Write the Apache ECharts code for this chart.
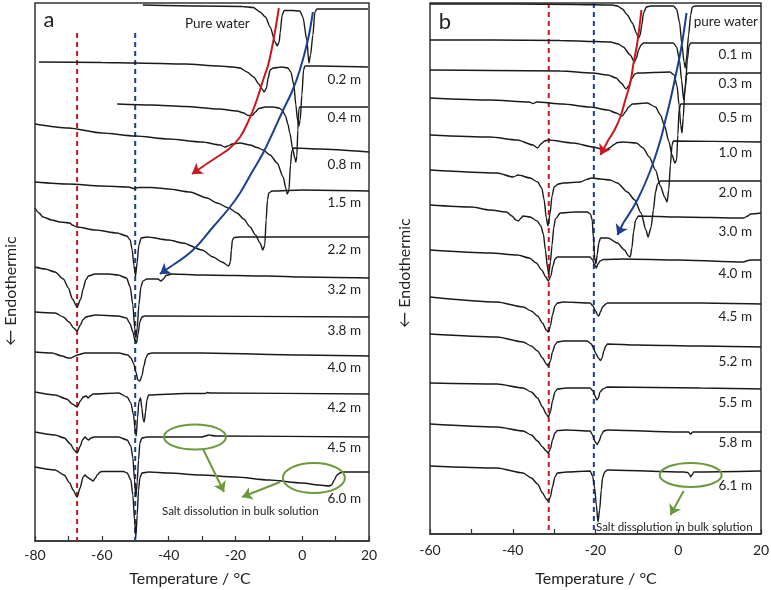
<!DOCTYPE html>
<html><head><meta charset="utf-8">
<script src="https://cdn.jsdelivr.net/npm/echarts@6.0.0/dist/echarts.min.js"></script>
<style>html,body{margin:0;padding:0;background:#fff}#c{width:771px;height:590px}</style>
</head><body><div id="c"></div>
<script>
// ---------- Panel a (T in °C, relative heat-flow offset, arbitrary units, down = endothermic) ----------
const labelsA = ['Pure water','0.2 m','0.4 m','0.8 m','1.5 m','2.2 m','3.2 m','3.8 m','4.0 m','4.2 m','4.5 m','6.0 m'];
const a_pure = [[-47.7,5],[-30,6],[-18,6.5],[-14.7,7.5],[-12.6,12],[-11,17],[-9.6,27],[-8.1,42],[-7.5,46],[-6.9,42],[-6.6,33],[-6.0,15],[-5.4,10.5],[-3,10.5],[-0.7,11],[0.2,17],[1.4,40],[2.0,63],[2.5,55],[3.2,35],[3.8,12],[4.4,9],[19.7,9]];
const a_02 = [[-78.8,62],[-60,62.5],[-50,63],[-35,64],[-25,66],[-20.7,67],[-18.6,68],[-16.5,72],[-14.5,77],[-13.0,84],[-12.0,89],[-11.4,92],[-10.7,88],[-10.2,78],[-9.6,70],[-8.7,68],[-6,67],[-4.3,68],[-3.4,72],[-2.5,85],[-1.9,105],[-1.4,120],[-1.0,126],[-0.6,120],[-0.1,95],[0.4,70],[0.8,66],[5,66],[19.7,67]];
const a_04 = [[-55.4,104],[-45,105],[-35,106.5],[-25,109],[-19.5,111],[-17.5,113],[-16.2,115.5],[-15,115.5],[-14,112],[-13,108.5],[-11,107],[-8.7,107],[-7,108],[-6,110],[-5,116],[-4.3,124],[-3.7,133],[-2.8,150],[-2.2,158],[-1.9,162],[-1.6,156],[-1.3,130],[-1.0,109],[-0.7,107],[19.7,107]];
const a_08 = [[-80,124],[-70,128],[-60,133],[-50,136],[-40,139],[-30,142],[-24.5,145],[-23.2,147],[-22.2,146],[-21,144],[-18.6,143],[-15.6,145],[-13.5,147.5],[-11.7,150],[-9.6,155],[-7.5,163],[-5.7,177],[-4.9,188],[-4.5,194],[-4.0,191],[-3.5,165],[-3.1,151],[-2.5,148],[5,149],[20,152]];
const a_15 = [[-80,182],[-70,184],[-60,186],[-52,187],[-50.5,188.5],[-49,187.5],[-45,187.5],[-40,189],[-33.6,192],[-28.5,198],[-25.5,203],[-22,208],[-19.5,213],[-17.5,219],[-15.6,227],[-14,235],[-12.6,243],[-11.8,250],[-11.2,245],[-10.8,220],[-10.4,200],[-10.0,193],[-9,191],[0,190],[20,191]];
const a_22 = [[-80,208],[-78.8,213],[-77.6,217],[-75,220],[-72.5,222],[-69.5,223],[-68.9,225],[-67.4,227],[-62,230],[-55.4,233],[-52.5,236],[-51.5,240],[-50.9,250],[-50.4,265],[-49.9,276],[-49.4,262],[-48.9,245],[-48.2,238],[-46.5,237],[-40,240],[-35.7,243],[-30,250],[-26.7,257],[-24,262],[-22,266],[-21.5,262],[-21.2,250],[-20.9,240],[-20.4,237.5],[-18.6,237],[20,237]];
const a_32 = [[-80,267],[-77,269],[-74,272],[-71.5,279],[-70,288],[-68.8,299],[-67.4,307],[-66.3,299],[-65.6,289],[-64.8,280],[-64,276],[-62,274],[-58,274],[-55.1,275],[-52.6,278],[-51.5,287],[-50.7,305],[-50.1,330],[-49.8,338],[-49.4,328],[-48.9,305],[-48.3,287],[-47.7,281],[-46.5,279],[-43.2,279],[-42.3,281],[-41.5,279],[-40.8,275.5],[-39,274],[-30,275],[-10,276],[0,277],[20,278]];
const a_38 = [[-80,312],[-74,313],[-71.5,317],[-69.8,322],[-68.4,328],[-67.4,331],[-66.4,325],[-65.7,320],[-64.8,317],[-63.5,316],[-62,315],[-55.1,316],[-52.6,318],[-51.5,324],[-50.7,332],[-50.1,340],[-49.6,343],[-49.2,335],[-48.6,322],[-48,317],[-47.1,316],[20,317]];
const a_40 = [[-80,352],[-74.9,353],[-71.9,356],[-70.1,358],[-69.2,358],[-68.3,356.5],[-67.4,355],[-65,353],[-55,353],[-52.2,355],[-51.3,358],[-50.4,364],[-49.8,372],[-49.2,380],[-48.6,381],[-48,376],[-47.4,366],[-46.8,358],[-46.2,354],[-45,353],[-30,353],[0,355],[20,356]];
const a_42 = [[-80,392],[-74,395],[-70.5,399],[-68.8,404],[-67.4,407],[-66.4,401],[-65.6,397],[-64.7,396],[-64.1,398],[-63.5,396],[-62.6,394],[-55,393],[-52.4,397],[-51.3,403],[-50.5,415],[-50,430],[-49.7,436],[-49.3,418],[-48.9,402],[-48.4,398],[-48.0,408],[-47.6,420],[-47.3,422],[-46.9,412],[-46.5,400],[-46.0,395],[-35,393.5],[-29,393.5],[-28.5,392.5],[-27.5,393],[20,394]];
const a_45 = [[-80,432],[-74,435],[-71.2,438],[-69.4,444],[-68.3,450],[-67.4,453],[-66.4,446],[-65.8,440],[-65,437],[-64.4,439],[-64.0,440],[-63.2,438],[-62.3,437],[-55,437],[-52.4,440],[-51.3,446],[-50.7,458],[-50.2,480],[-49.8,497],[-49.4,482],[-49,460],[-48.6,443],[-48,438],[-46.5,437],[-30,437],[-29,436],[-28,435],[-26,436],[20,437]];
const a_60 = [[-80,467],[-74,470],[-71.3,475],[-69.6,483],[-68.6,490],[-67.4,497],[-66.5,488],[-65.6,477],[-65.0,475],[-64.4,477],[-63.5,479],[-62.6,481],[-61.9,478],[-61.4,475],[-60.5,472],[-59.9,471.5],[-53.5,471.5],[-52.4,473],[-51.3,480],[-50.7,495],[-50.2,520],[-49.8,537],[-49.4,515],[-49.0,490],[-48.6,478],[-48,473],[-46,472],[-40,473],[-30.6,475],[-20,477],[-10,480],[0,483],[5,485],[8,486],[8.8,485],[9.6,480],[10.4,475],[11.3,473],[12.2,472],[20,472]];
const curvesA = [a_pure,a_02,a_04,a_08,a_15,a_22,a_32,a_38,a_40,a_42,a_45,a_60];
const refA = [-67.4, -50];          // eutectic reference temperatures (°C)
const ticksA = [-80,-60,-40,-20,0,20];

// ---------- Panel b ----------
const labelsB = ['pure water','0.1 m','0.3 m','0.5 m','1.0 m','2.0 m','3.0 m','4.0 m','4.5 m','5.2 m','5.5 m','5.8 m','6.1 m'];
const b_pure = [[-60,4],[-40,4],[-25,4.5],[-16,5],[-14.7,6],[-13.5,9],[-12.3,15],[-11.1,23],[-10.1,33],[-9.6,38],[-9.2,35],[-8.8,25],[-8.4,13],[-7.7,7],[-6.7,6],[-1.2,6],[-0.4,9],[0.3,22],[0.9,45],[1.4,62],[1.7,68],[2.0,58],[2.5,35],[3.0,15],[3.4,7],[4,6],[20,6]];
const b_01 = [[-60,40],[-45,40],[-28.5,40.5],[-20,41.5],[-16.4,42],[-14.5,44],[-13.3,47],[-11.6,55],[-10.6,62],[-10.1,58],[-9.6,50],[-9.0,45],[-8.4,43],[-1.2,43],[-0.4,47],[0.3,60],[0.8,80],[1.3,100],[1.7,88],[2.2,60],[2.6,46],[3.0,43],[20,43]];
const b_03 = [[-60,70],[-45,70.5],[-28.5,71],[-20.8,73],[-17,75],[-15,78],[-13.8,83],[-12.6,89],[-12.0,86],[-11.3,79],[-10.5,74],[-9.9,73],[-2,72],[-1.0,75],[-0.3,86],[0.2,105],[0.6,125],[0.9,133],[1.2,118],[1.6,90],[2.0,75],[2.4,73],[20,73]];
const b_05 = [[-60,98],[-45.5,100],[-36,102],[-35.1,103.5],[-34.2,102],[-28,104],[-21.3,107],[-17,110],[-15,113],[-13.5,116],[-12.8,112],[-12,107],[-11.1,104],[-7.5,103],[-5.5,107],[-4.3,115],[-3.3,126],[-2.3,141],[-1.5,155],[-0.8,163],[-0.4,160],[-0.1,135],[0.2,110],[0.6,104],[20,104]];
const b_10 = [[-60,135],[-45.5,137],[-38.9,140],[-35.1,145],[-34,148],[-33.2,144],[-32.3,141],[-31.4,140],[-25.4,143],[-20.5,147],[-18.6,149],[-17.6,150],[-16.6,148],[-15.7,145],[-14.7,142.5],[-13.3,142],[-10.1,143],[-8.5,148],[-7.0,157],[-5.5,170],[-4.3,186],[-3.3,197],[-2.7,202],[-2.3,190],[-1.9,165],[-1.5,145],[-1.2,141],[20,142]];
const b_20 = [[-60,170],[-43.8,173],[-39.9,177],[-38.7,175],[-35.8,178],[-34,182],[-33,188],[-32.4,200],[-31.9,218],[-31.5,226],[-31.0,214],[-30.5,196],[-30.0,187],[-29,184],[-27.8,183],[-23.7,182],[-21.8,179],[-21,178],[-18.8,179],[-16.5,180],[-14.7,183],[-12.3,192],[-10.5,200],[-9.0,213],[-7.8,230],[-7.3,237],[-6.6,228],[-6.0,210],[-5.5,192],[-5.0,184],[-4.3,181],[20,181]];
const b_30 = [[-60,205],[-50,207],[-45.5,210],[-41.5,212],[-40.2,216],[-39.2,220],[-38.6,221],[-38,218],[-37.5,216],[-35.8,217],[-34.1,221],[-33.2,226],[-32.6,234],[-32.1,250],[-31.6,268],[-31.3,274],[-30.9,262],[-30.5,245],[-30.1,228],[-29.7,219],[-28.5,213],[-25,212],[-22,212],[-21.2,214],[-20.8,220],[-20.5,238],[-20.2,258],[-19.9,264],[-19.6,255],[-19.2,243],[-18.8,238],[-17,238],[-14.7,243],[-13,250],[-12.0,256],[-11.6,257],[-11.2,248],[-10.8,232],[-10.3,220],[-9.6,216],[0,217],[15.8,218],[16.8,216],[17.5,214],[20,213]];
const b_40 = [[-60,250],[-45.5,253],[-38.9,255],[-36,258],[-34.3,263],[-33,270],[-32,277],[-31.4,281],[-30.8,276],[-30.3,266],[-29.8,259],[-29.2,257],[-27.8,257],[-21.3,257],[-20.7,260],[-20.2,265],[-19.8,268],[-19.4,264],[-18.9,261],[-18.1,259.5],[-13.3,259],[0,260],[15.8,262],[16.8,260.5],[17.5,260],[20,260]];
const b_45 = [[-60,297],[-43.8,302],[-37.5,307],[-35.5,311],[-34,316],[-32.8,323],[-31.9,330],[-31.4,332],[-30.9,326],[-30.4,315],[-29.8,306],[-29.2,303],[-27.8,302],[-21.3,303],[-20.6,306],[-20.0,311],[-19.5,315],[-19.2,316],[-18.8,312],[-18.3,307],[-17.5,304],[-17.1,303],[-11.6,303],[5.4,303],[20,304]];
const b_52 = [[-60,334],[-43.8,337],[-37.5,342],[-35.5,346],[-34,351],[-32.8,358],[-31.9,364],[-31.4,366],[-30.9,361],[-30.4,352],[-29.8,345],[-29.2,342],[-27.8,341],[-22,341],[-21,344],[-20.5,348],[-20.0,353],[-19.3,358],[-18.8,360.5],[-18.4,358],[-18.0,351],[-17.5,346],[-17.1,344],[-10,345],[5.4,346],[20,347]];
const b_55 = [[-60,383],[-43.8,384],[-37.5,388],[-35.5,392],[-34,398],[-32.8,407],[-31.9,414],[-31.4,417],[-30.9,412],[-30.4,401],[-29.8,392],[-29.2,389],[-27,388],[-21.3,388],[-20.6,391],[-20.1,396],[-19.7,400],[-19.3,398],[-18.9,392],[-18.2,389],[-17.1,387],[5.4,388],[20,389]];
const b_58 = [[-60,424],[-43.8,427],[-37.5,431],[-35.5,435],[-34,441],[-32.8,447],[-31.9,451],[-31.4,453],[-30.9,449],[-30.4,440],[-29.8,433],[-29.2,430.5],[-27,430],[-21.3,431],[-20.7,435],[-20.2,441],[-19.6,444.5],[-19.1,441],[-18.6,435],[-18.0,431],[-17.1,430],[0,432],[2.5,432],[3.0,434],[3.5,432],[20,432]];
const b_61 = [[-60,466],[-43.8,468],[-37.5,473],[-35.5,478],[-34,484],[-32.8,493],[-31.9,499],[-31.4,501],[-30.9,497],[-30.4,487],[-29.8,477],[-29.2,473],[-27,472],[-21.3,471],[-20.7,476],[-20.2,488],[-19.8,505],[-19.4,522],[-19.0,510],[-18.6,490],[-18.3,478],[-17.8,472],[-17.1,470],[1.3,472],[2.3,472.5],[2.8,475],[3.0,477],[3.3,475],[3.8,472],[20,471]];
const curvesB = [b_pure,b_01,b_03,b_05,b_10,b_20,b_30,b_40,b_45,b_52,b_55,b_58,b_61];
const refB = [-31.3, -20.4];
const ticksB = [-60,-40,-20,0,20];

// ---------- annotation paths (data coords) ----------
const arrowA_red  = [[-7.0,8],[-7.8,25],[-9.0,47],[-10.2,65],[-11.7,80],[-13.2,96],[-14.7,110],[-16.5,124],[-18.6,137],[-21.6,148],[-25.5,157],[-29.1,165],[-33.0,174]];
const arrowA_blue = [[3.2,12],[1.7,40],[-0.7,70],[-3.1,92],[-5.7,110],[-8.7,132],[-11.7,153],[-15.0,172],[-18.6,193],[-21.6,207],[-26.7,227],[-32.7,250],[-38.7,265],[-42.6,274]];
const arrowB_red  = [[-8.9,10],[-9.9,43],[-10.8,63],[-11.6,83],[-12.8,100],[-14.0,117],[-15.4,130],[-16.9,140],[-18.8,155]];
const arrowB_blue = [[2.0,13],[1.3,33],[0.5,53],[-0.7,77],[-1.9,100],[-3.1,120],[-4.3,140],[-6.7,170],[-9.9,200],[-13.3,223],[-14.7,235]];
const greenA1 = [[-29.7,449],[-23.4,492]];
const greenA2 = [[-6.6,482],[-18.0,497]];
const greenB1 = [[1.3,491],[-1.9,515]];

const FONT = 'Lato, "Open Sans", "DejaVu Sans", sans-serif';
const INK = '#1a1a1a', RED = '#c8171e', BLUE = '#1d3f8f', GREEN = '#6b9a3c';

function curve(data, xi, name) {
  return {name, type:'line', xAxisIndex:xi, yAxisIndex:xi, data, showSymbol:false, symbol:'none',
    smooth:0.25, smoothMonotone:'x', lineStyle:{color:INK, width:1.4}, silent:true, z:3, animation:false};
}
function vline(x, y0, y1, color, xi) {
  return {type:'line', xAxisIndex:xi, yAxisIndex:xi, data:[[x,y0],[x,y1]], showSymbol:false, symbol:'none',
    lineStyle:{color, width:2, type:[5,4]}, silent:true, z:2, animation:false};
}
function arrow(coords, color, xi, w) {
  const n = coords.length;
  const out = [];
  if (n > 2) {
    out.push({type:'line', xAxisIndex:xi, yAxisIndex:xi, data:coords.slice(0, n-1), showSymbol:false, symbol:'none',
      smooth:0.4, lineStyle:{color, width:w}, silent:true, z:4, animation:false});
  }
  out.push({type:'lines', coordinateSystem:'cartesian2d', xAxisIndex:xi, yAxisIndex:xi,
    symbol:['none','arrow'], symbolSize:[1,10], lineStyle:{color, width:w, opacity:1, curveness:0},
    data:[{coords:[coords[n-2], coords[n-1]]}], silent:true, z:4, animation:false});
  return out;
}
function xAx(gi, min, max, ticks, margin) {
  return {type:'value', gridIndex:gi, min, max, interval:10,
    axisLine:{show:true, onZero:false, lineStyle:{color:'#333', width:1.5}},
    axisTick:{show:true, inside:true, length:5, lineStyle:{color:'#333', width:1.2}},
    splitLine:{show:false},
    axisLabel:{show:true, margin, fontSize:14, fontFamily:FONT, color:'#222', showMinLabel:true, showMaxLabel:true,
      hideOverlap:false, formatter: v => ticks.indexOf(Math.round(v)) >= 0 ? String(Math.round(v)) : ''}};
}
function yAx(gi, min, max) {
  return {type:'value', gridIndex:gi, min, max, inverse:true, show:false, splitLine:{show:false}};
}

const series = [];
curvesA.forEach((d,i) => series.push(curve(d, 0, labelsA[i])));
curvesB.forEach((d,i) => series.push(curve(d, 1, labelsB[i])));
series.push(vline(refA[0], 33, 541, RED, 0), vline(refA[1], 33, 541, BLUE, 0));
series.push(vline(refB[0], 3, 534, RED, 1), vline(refB[1], 3, 534, BLUE, 1));
series.push(...arrow(arrowA_red, RED, 0, 2), ...arrow(arrowA_blue, BLUE, 0, 2));
series.push(...arrow(arrowB_red, RED, 1, 2), ...arrow(arrowB_blue, BLUE, 1, 2));
series.push(...arrow(greenA1, GREEN, 0, 2), ...arrow(greenA2, GREEN, 0, 2), ...arrow(greenB1, GREEN, 1, 2));

const chart = echarts.init(document.getElementById('c'), null, {renderer:'canvas'});
chart.setOption({
  animation:false,
  backgroundColor:'#fff',
  grid:[
    {left:35, top:3, width:334, height:538, show:true, borderColor:'#333', borderWidth:1.5, backgroundColor:'transparent', containLabel:false, outerBoundsMode:'none'},
    {left:430, top:3, width:331, height:531, show:true, borderColor:'#333', borderWidth:1.5, backgroundColor:'transparent', containLabel:false, outerBoundsMode:'none'}
  ],
  xAxis:[xAx(0,-80,20,ticksA,7), xAx(1,-60,20,ticksB,9)],
  yAxis:[yAx(0,3,541), yAx(1,3,534)],
  series
});

// ---------- texts & ellipses ----------
const labelYA = [24,80,118,165,203,250,290,331,368,408,448,499];
const labelYB = [22,55,84,118,153,193,232,274,317,362,403,443,486];
function txt(x, y, text, size, align, extra) {
  return Object.assign({type:'text', x, y, silent:true, z:10,
    style:{text, fontSize:size, fontFamily:FONT, fill:'#222', align:align||'left', verticalAlign:'middle'}}, extra||{});
}
const g = [];
g.push(txt(49, 20, 'a', 22, 'center'));
g.push(txt(445, 22, 'b', 22, 'center'));
labelsA.forEach((t,i) => {
  if (i === 0) g.push(txt(185, labelYA[i], t, 13.5, 'left'));
  else g.push(txt(361, labelYA[i], t, 13.5, 'right'));
});
labelsB.forEach((t,i) => {
  if (i === 0) g.push(txt(758, labelYB[i], t, 13.5, 'right'));
  else g.push(txt(752, labelYB[i], t, 13.5, 'right'));
});
g.push(txt(190, 579, 'Temperature / °C', 16, 'center'));
g.push(txt(596, 579, 'Temperature / °C', 16, 'center'));
g.push(txt(11, 291, '← Endothermic', 16, 'center', {rotation: Math.PI/2}));
g.push(txt(405, 273, '← Endothermic', 16, 'center', {rotation: Math.PI/2}));
g.push(txt(162, 511, 'Salt dissolution in bulk solution', 11.5, 'left'));
g.push(txt(596, 527, 'Salt dissolution in bulk solution', 11.5, 'left'));

function ell(gi, T, v, rx, ry) {
  const p = chart.convertToPixel({gridIndex:gi}, [T, v]);
  return {type:'ellipse', silent:true, z:9, shape:{cx:p[0], cy:p[1], rx, ry}, style:{fill:'none', stroke:GREEN, lineWidth:2}};
}
g.push(ell(0, -32.1, 437, 31, 12.5));
g.push(ell(0, 3.5, 478, 31, 15));
g.push(ell(1, 3.0, 475, 31, 12));
chart.setOption({graphic:{elements:g}});
</script>
</body></html>
